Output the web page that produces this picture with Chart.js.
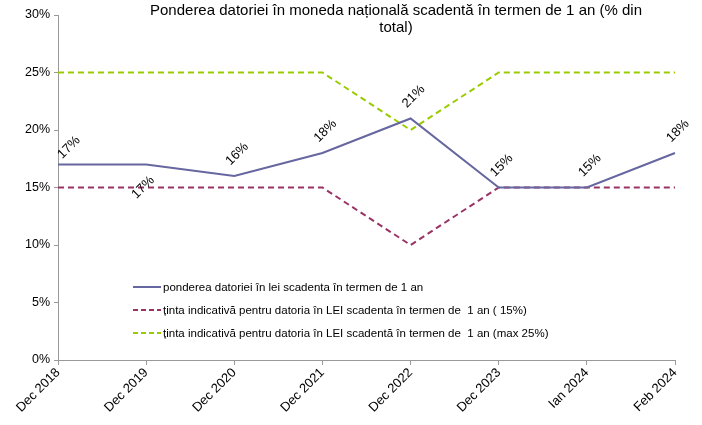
<!DOCTYPE html>
<html>
<head>
<meta charset="utf-8">
<script src="https://cdn.jsdelivr.net/npm/chart.js@4/dist/chart.umd.min.js"></script>
<style>
  html, body { margin: 0; padding: 0; background: #fff; }
  #wrap { position: relative; width: 702px; height: 425px; }
</style>
</head>
<body>
<div id="wrap"><canvas id="chart" width="702" height="425"></canvas></div>
<script>
// ---- data ----
const categories = ['Dec 2018', 'Dec 2019', 'Dec 2020', 'Dec 2021', 'Dec 2022', 'Dec 2023', 'Ian 2024', 'Feb 2024'];
const ponderea = [17, 17, 16, 18, 21, 15, 15, 18];
const tinta15 = [15, 15, 15, 15, 10, 15, 15, 15];
const tinta25 = [25, 25, 25, 25, 20, 25, 25, 25];
const labelSide = ['above', 'below', 'above', 'above', 'above', 'above', 'above', 'above'];
const seriesNames = [
  'ponderea datoriei în lei scadenta în termen de 1 an',
  'ținta indicativă pentru datoria în LEI scadenta în termen de  1 an ( 15%)',
  'ținta indicativă pentru datoria în LEI scadentă în termen de  1 an (max 25%)'
];
const titleLines = ['Ponderea datoriei în moneda națională scadentă în termen de 1 an (% din', 'total)'];

const FONT = '"Liberation Sans", Arial, sans-serif';
const colors = ['#6666A0', '#993366', '#99CC00'];

// ---- titlu, etichete si legenda desenate direct pe canvas ----
const overlay = {
  id: 'overlay',
  afterDatasetsDraw(chart) {
    const ctx = chart.ctx;
    ctx.save();

    // etichete de date (rotite -45)
    const meta = chart.getDatasetMeta(0);
    ctx.font = '13px ' + FONT;
    ctx.fillStyle = '#000';
    ctx.textAlign = 'center';
    ctx.textBaseline = 'middle';
    meta.data.forEach((pt, i) => {
      let dx = 3, dy = -22;
      if (labelSide[i] === 'below') { dx = -3; dy = 23; }
      if (i === 0) { dx = 11; dy = -17; }
      ctx.save();
      ctx.translate(pt.x + dx, pt.y + dy);
      ctx.rotate(-Math.PI / 4);
      ctx.fillText(ponderea[i] + '%', 0, 0);
      ctx.restore();
    });

    // titlu
    ctx.font = '15px ' + FONT;
    ctx.fillStyle = '#000';
    titleLines.forEach((t, i) => ctx.fillText(t, 396, 11 + i * 17));

    // legenda
    ctx.font = '11.5px ' + FONT;
    ctx.textAlign = 'left';
    const lx = 133, ly = 287;
    seriesNames.forEach((name, i) => {
      const y = ly + i * 23;
      ctx.strokeStyle = colors[i];
      ctx.lineWidth = 2;
      ctx.setLineDash(i === 0 ? [] : [5, 3]);
      ctx.beginPath();
      ctx.moveTo(lx, y);
      ctx.lineTo(lx + 28, y);
      ctx.stroke();
      ctx.fillStyle = '#000';
      ctx.fillText(name, lx + 30, y + 1);
    });
    ctx.restore();
  }
};

const ds = (label, data, i, dashed) => ({
  label, data,
  borderColor: colors[i],
  backgroundColor: colors[i],
  borderWidth: 2,
  borderDash: dashed ? [6, 4] : [],
  pointRadius: 0,
  tension: 0,
  fill: false,
});

new Chart(document.getElementById('chart'), {
  type: 'line',
  data: {
    labels: categories,
    datasets: [
      ds(seriesNames[0], ponderea, 0, false),
      ds(seriesNames[1], tinta15, 1, true),
      ds(seriesNames[2], tinta25, 2, true),
    ],
  },
  options: {
    responsive: false,
    animation: false,
    layout: { padding: { top: 15, right: 27, left: 0, bottom: 0 } },
    plugins: { legend: { display: false }, tooltip: { enabled: false }, title: { display: false } },
    scales: {
      x: {
        offset: false,
        grid: { drawOnChartArea: false, drawTicks: true, tickLength: 5, color: '#999' },
        border: { color: '#999', width: 1 },
        ticks: { color: '#000', font: { family: FONT, size: 13 }, minRotation: 45, maxRotation: 45, autoSkip: false, padding: 0 },
        afterFit: (s) => { s.height = 65; },
      },
      y: {
        min: 0, max: 30,
        grid: { drawOnChartArea: false, drawTicks: true, tickLength: 4, color: '#999' },
        border: { color: '#999', width: 1 },
        ticks: { stepSize: 5, color: '#000', font: { family: FONT, size: 12.5 }, padding: 4, callback: (v) => v + '%' },
        afterFit: (s) => { s.width = 58; },
      },
    },
  },
  plugins: [overlay],
});
</script>
</body>
</html>
